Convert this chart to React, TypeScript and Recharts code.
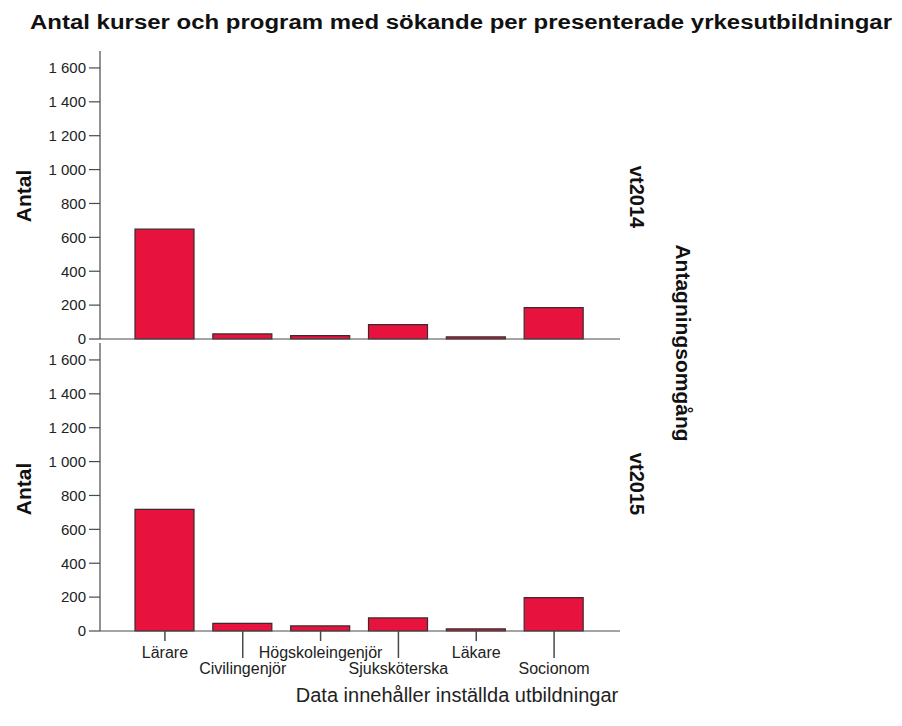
import React from "react";
import { BarChart, Bar, XAxis, YAxis } from "recharts";

const categories = ["Lärare", "Civilingenjör", "Högskoleingenjör", "Sjuksköterska", "Läkare", "Socionom"];
const vt2014 = [648, 30, 20, 85, 12, 185];
const vt2015 = [718, 45, 30, 77, 12, 197];
const yTicks = [0, 200, 400, 600, 800, 1000, 1200, 1400, 1600];

const title = "Antal kurser och program med sökande per presenterade yrkesutbildningar";
const yLabel = "Antal";
const panelLabels = ["vt2014", "vt2015"];
const facetLabel = "Antagningsomgång";
const footnote = "Data innehåller inställda utbildningar";

const data2014 = categories.map((c, i) => ({ name: c, value: vt2014[i] }));
const data2015 = categories.map((c, i) => ({ name: c, value: vt2015[i] }));

const FONT = "'Liberation Sans', Arial, sans-serif";
const AXIS = "#4a4a4a";
const FILL = "#E8123F";
const STROKE = "#3a2a2a";

const fmt = (v: number) =>
  v >= 1000 ? `${Math.floor(v / 1000)} ${String(v % 1000).padStart(3, "0")}` : String(v);

const XTick = (props: any) => {
  const { x, y, payload, index } = props;
  const long = index % 2 === 1;
  return (
    <g>
      <line x1={x} x2={x} y1={y} y2={y + (long ? 27 : 10)} stroke={AXIS} strokeWidth={1.5} />
      <text
        x={x}
        y={y + (long ? 43 : 27)}
        textAnchor="middle"
        fontSize={16}
        fontFamily={FONT}
        fill="#222"
      >
        {payload.value}
      </text>
    </g>
  );
};

const yAxisProps = {
  width: 100,
  domain: [0, 1700] as [number, number],
  ticks: yTicks,
  tickFormatter: fmt,
  tickSize: 11,
  tickMargin: 3,
  interval: 0 as const,
  axisLine: { stroke: AXIS, strokeWidth: 1.2 },
  tickLine: { stroke: AXIS, strokeWidth: 1.2 },
  tick: { fontSize: 15, fontFamily: FONT, fill: "#222" },
};

export default function App() {
  return (
    <div style={{ position: "absolute", left: 0, top: 0, width: 902, height: 726, background: "#fff" }}>
      <div style={{ position: "absolute", left: 0, top: 0 }}>
        <BarChart width={902} height={360} data={data2014} margin={{ top: 51, right: 282, bottom: 15, left: 0 }}>
          <XAxis
            dataKey="name"
            height={6}
            tick={false}
            tickLine={false}
            axisLine={{ stroke: AXIS, strokeWidth: 1.2 }}
            padding={{ left: 26, right: 27 }}
          />
          <YAxis {...yAxisProps} />
          <Bar dataKey="value" fill={FILL} stroke={STROKE} strokeWidth={1.2} barSize={59} isAnimationActive={false} />
        </BarChart>
      </div>
      <div style={{ position: "absolute", left: 0, top: 0 }}>
        <BarChart width={902} height={726} data={data2015} margin={{ top: 343, right: 282, bottom: 0, left: 0 }}>
          <XAxis
            dataKey="name"
            height={95}
            interval={0}
            tickSize={0}
            tickMargin={0}
            tickLine={false}
            tick={<XTick />}
            axisLine={{ stroke: AXIS, strokeWidth: 1.2 }}
            padding={{ left: 26, right: 27 }}
          />
          <YAxis {...yAxisProps} />
          <Bar dataKey="value" fill={FILL} stroke={STROKE} strokeWidth={1.2} barSize={59} isAnimationActive={false} />
        </BarChart>
      </div>
      <svg
        width={902}
        height={726}
        style={{ position: "absolute", left: 0, top: 0, pointerEvents: "none" }}
        fontFamily={FONT}
      >
        <text x={30} y={28.5} fontSize={20} fontWeight="bold" fill="#111" textLength={862} lengthAdjust="spacingAndGlyphs">
          {title}
        </text>
        <text x={23.5} y={196} transform="rotate(-90 23.5 196)" textAnchor="middle" dominantBaseline="central" fontSize={21} fontWeight="bold" fill="#111">
          {yLabel}
        </text>
        <text x={23.5} y={489} transform="rotate(-90 23.5 489)" textAnchor="middle" dominantBaseline="central" fontSize={21} fontWeight="bold" fill="#111">
          {yLabel}
        </text>
        <text x={637} y={197} transform="rotate(90 637 197)" textAnchor="middle" dominantBaseline="central" fontSize={20} fontWeight="bold" fill="#111">
          {panelLabels[0]}
        </text>
        <text x={637} y={484} transform="rotate(90 637 484)" textAnchor="middle" dominantBaseline="central" fontSize={20} fontWeight="bold" fill="#111">
          {panelLabels[1]}
        </text>
        <text x={683} y={343} transform="rotate(90 683 343)" textAnchor="middle" dominantBaseline="central" fontSize={21} fontWeight="bold" fill="#111">
          {facetLabel}
        </text>
        <text x={457} y={702} textAnchor="middle" fontSize={20} fill="#222">
          {footnote}
        </text>
      </svg>
    </div>
  );
}
